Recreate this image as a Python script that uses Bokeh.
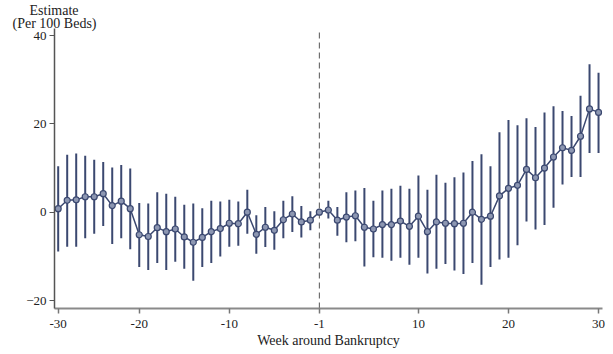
from bokeh.plotting import figure
from bokeh.models import Range1d, FixedTicker, Title
from bokeh.embed import file_html
from bokeh.resources import INLINE

# positions along the x axis (one per week, -30 .. 30)
positions = list(range(61))
tick_positions = [0, 9, 19, 29, 40, 50, 60]
tick_labels = ["-30", "-20", "-10", "-1", "10", "20", "30"]
event_position = 29

estimate = [0.8, 2.7, 2.8, 3.5, 3.5, 4.2, 1.5, 2.5, 0.8, -5.1,
            -5.5, -3.5, -4.4, -3.8, -5.6, -6.8, -5.7, -4.4, -3.7, -2.5,
            -2.6, 0.0, -5.0, -3.4, -4.1, -1.7, -0.4, -2.2, -1.8, 0.0,
            0.5, -1.8, -1.1, -0.8, -3.4, -3.8, -2.8, -2.8, -2.0, -3.2,
            -0.9, -4.4, -2.2, -2.5, -2.6, -2.5, 0.0, -1.6, -0.9, 3.7,
            5.4, 6.1, 9.7, 7.8, 10.0, 12.5, 14.6, 14.0, 17.2, 23.4, 22.6]
upper = [10.4, 13.0, 13.3, 12.8, 11.9, 11.4, 10.1, 10.7, 9.9, 2.1,
         2.0, 4.5, 4.2, 3.5, 1.7, 2.0, 0.9, 2.6, 2.4, 2.8,
         2.4, 5.1, -0.7, 1.2, 0.2, 2.6, 3.6, 1.4, 0.2, 0.0,
         2.6, 1.2, 4.5, 4.9, 5.5, 2.6, 4.9, 5.3, 6.0, 5.3,
         8.3, 5.1, 8.5, 6.7, 7.9, 9.0, 11.6, 13.1, 10.4, 18.1,
         20.9, 19.7, 21.3, 19.3, 22.6, 24.0, 22.9, 21.8, 26.4, 33.5, 31.6]
lower = [-8.9, -7.8, -7.8, -5.9, -4.9, -3.1, -7.2, -5.9, -8.4, -12.4,
         -13.1, -11.5, -13.1, -11.2, -12.8, -15.5, -12.4, -11.5, -10.0, -7.8,
         -7.6, -4.9, -9.4, -7.9, -8.5, -5.9, -4.5, -5.7, -4.1, 0.0,
         -1.4, -5.3, -6.8, -6.6, -12.3, -10.2, -10.3, -11.0, -10.3, -11.9,
         -10.3, -13.9, -12.8, -11.7, -13.2, -14.0, -11.5, -16.4, -12.4, -10.7,
         -10.3, -7.5, -2.1, -3.9, -2.9, 1.0, 6.3, 8.0, 8.0, 13.4, 13.4]
y_ticks = [-20, 0, 20, 40]
y_title = ["Estimate", "(Per 100 Beds)"]

FONT = "Liberation Serif"
NAVY = "#3b4870"
FILL = "#8d97b2"
Y_LO, Y_HI = -21.8, 41.6

p = figure(width=613, height=354, output_backend="svg", toolbar_location=None,
           x_range=Range1d(-0.41, 60.44), y_range=Range1d(Y_LO, Y_HI),
           min_border_left=54, min_border_right=11, min_border_top=28,
           min_border_bottom=46)
p.outline_line_color = None
p.xgrid.visible = False
p.ygrid.visible = False
p.background_fill_color = "white"
p.border_fill_color = "white"

# y axis title: two lines above the axis (later titles stack further up)
p.add_layout(Title(text=y_title[1], align="left", offset=-42, standoff=-4,
                   text_font=FONT, text_font_size="14px",
                   text_font_style="normal", text_color="#222222"), "above")
p.add_layout(Title(text=y_title[0], align="left", offset=-25, standoff=-4,
                   text_font=FONT, text_font_size="14px",
                   text_font_style="normal", text_color="#222222"), "above")

# dashed reference line at the bankruptcy week
p.segment(x0=[event_position], y0=[Y_LO], x1=[event_position], y1=[Y_HI],
          line_color="#555555", line_dash="6 4", line_width=1)

p.segment(x0=positions, y0=lower, x1=positions, y1=upper,
          line_color=NAVY, line_width=2)
p.line(positions, estimate, line_color=NAVY, line_width=1.5)
p.scatter(positions, estimate, marker="circle", size=6,
          fill_color=FILL, line_color=NAVY, line_width=1.2)

# x axis
xa = p.xaxis[0]
xa.ticker = FixedTicker(ticks=tick_positions)
xa.major_label_overrides = {t: l for t, l in zip(tick_positions, tick_labels)}
xa.axis_line_color = "#8a8a8a"
xa.axis_line_width = 2
xa.major_tick_line_color = "#777777"
xa.major_tick_line_width = 1.5
xa.major_tick_out = 5
xa.major_tick_in = 0
xa.minor_tick_line_color = None
xa.major_label_text_font = FONT
xa.major_label_text_font_size = "13px"
xa.major_label_text_color = "#222222"
xa.major_label_standoff = 6
xa.axis_label = "Week around Bankruptcy"
xa.axis_label_text_font = FONT
xa.axis_label_text_font_size = "14px"
xa.axis_label_text_font_style = "normal"
xa.axis_label_text_color = "#222222"
xa.axis_label_standoff = 2

# y axis
ya = p.yaxis[0]
ya.ticker = FixedTicker(ticks=y_ticks)
ya.axis_line_color = "#555555"
ya.axis_line_width = 1.5
ya.major_tick_line_color = "#555555"
ya.major_tick_out = 5
ya.major_tick_in = 0
ya.minor_tick_line_color = None
ya.major_label_text_font = FONT
ya.major_label_text_font_size = "13px"
ya.major_label_text_color = "#222222"
ya.major_label_standoff = 3

open("out.html", "w").write(file_html(p, INLINE))
